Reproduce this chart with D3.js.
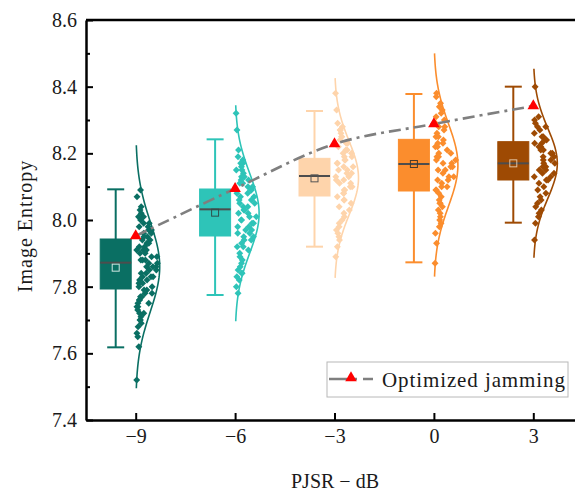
<!DOCTYPE html>
<html lang="en">
<head>
<meta charset="UTF-8">
<title>Image Entropy vs PJSR</title>
<script src="https://d3js.org/d3.v7.min.js"></script>
<style>
  body { margin: 0; background: #fff; }
  text { font-family: "Liberation Serif", "Times New Roman", serif; fill: #1a1a1a; }
</style>
</head>
<body>
<script>
// PJSR groups (dB)
const pjsr = [-9, -6, -3, 0, 3];

// box statistics
const q1 = [7.793, 7.952, 8.072, 8.087, 8.120];
const q3 = [7.943, 8.093, 8.185, 8.242, 8.235];
const medians = [7.872, 8.032, 8.132, 8.168, 8.170];
const means = [7.857, 8.022, 8.125, 8.168, 8.170];
const whiskLo = [7.618, 7.775, 7.920, 7.873, 7.992];
const whiskHi = [8.092, 8.242, 8.327, 8.378, 8.400];

// normal curve drawn next to each cloud
const curveMean = [7.860, 8.020, 8.126, 8.165, 8.170];
const curveSd = [0.135, 0.120, 0.111, 0.124, 0.105];

// optimized jamming result
const optimized = [7.952, 8.094, 8.228, 8.288, 8.342];

// individual samples per group
const ptsM9 = [8.09, 8.07, 8.04, 8.03, 8.02, 8.01, 8.01, 8.00, 7.99, 7.99, 7.98, 7.98, 7.97, 7.97, 7.96,
  7.96, 7.95, 7.95, 7.94, 7.94, 7.93, 7.93, 7.92, 7.92, 7.91, 7.91, 7.91, 7.90, 7.90, 7.89, 7.89, 7.88,
  7.88, 7.88, 7.87, 7.87, 7.86, 7.86, 7.86, 7.85, 7.85, 7.84, 7.84, 7.83, 7.83, 7.83, 7.82, 7.82, 7.81,
  7.81, 7.80, 7.80, 7.79, 7.79, 7.78, 7.78, 7.77, 7.77, 7.76, 7.76, 7.75, 7.75, 7.74, 7.74, 7.73, 7.72,
  7.72, 7.71, 7.70, 7.70, 7.69, 7.68, 7.66, 7.65, 7.62, 7.52];
const ptsM6 = [8.32, 8.27, 8.21, 8.19, 8.18, 8.17, 8.17, 8.16, 8.15, 8.15, 8.14, 8.13, 8.13, 8.12, 8.12,
  8.11, 8.11, 8.10, 8.10, 8.09, 8.09, 8.08, 8.08, 8.07, 8.07, 8.06, 8.06, 8.05, 8.05, 8.04, 8.04, 8.03,
  8.03, 8.02, 8.02, 8.01, 8.01, 8.00, 8.00, 7.99, 7.99, 7.98, 7.98, 7.97, 7.97, 7.96, 7.96, 7.95, 7.95,
  7.94, 7.94, 7.93, 7.92, 7.92, 7.91, 7.90, 7.89, 7.88, 7.87, 7.86, 7.85, 7.84, 7.84, 7.83, 7.82, 7.80,
  7.78];
const ptsM3 = [8.38, 8.33, 8.29, 8.28, 8.27, 8.27, 8.26, 8.25, 8.25, 8.24, 8.23, 8.23, 8.22, 8.21, 8.21,
  8.20, 8.20, 8.19, 8.19, 8.18, 8.18, 8.17, 8.17, 8.16, 8.16, 8.15, 8.15, 8.14, 8.14, 8.13, 8.13, 8.12,
  8.12, 8.11, 8.11, 8.10, 8.10, 8.09, 8.09, 8.08, 8.08, 8.07, 8.06, 8.06, 8.05, 8.04, 8.03, 8.02, 8.01,
  8.00, 7.99, 7.98, 7.97, 7.96, 7.95, 7.94, 7.92, 7.89];
const pts0 = [8.38, 8.37, 8.35, 8.34, 8.33, 8.32, 8.31, 8.30, 8.29, 8.28, 8.28, 8.27, 8.26, 8.25, 8.25,
  8.24, 8.23, 8.23, 8.22, 8.22, 8.21, 8.20, 8.20, 8.19, 8.19, 8.18, 8.18, 8.17, 8.17, 8.16, 8.16, 8.15,
  8.15, 8.14, 8.13, 8.13, 8.12, 8.12, 8.11, 8.10, 8.10, 8.09, 8.09, 8.08, 8.07, 8.06, 8.05, 8.05, 8.04,
  8.03, 8.02, 8.01, 8.00, 7.99, 7.98, 7.96, 7.93, 7.87];
const ptsP3 = [8.40, 8.31, 8.30, 8.29, 8.28, 8.28, 8.27, 8.26, 8.25, 8.25, 8.24, 8.24, 8.23, 8.23, 8.22,
  8.22, 8.21, 8.21, 8.20, 8.20, 8.19, 8.19, 8.18, 8.18, 8.17, 8.17, 8.16, 8.16, 8.15, 8.15, 8.14, 8.14,
  8.13, 8.13, 8.12, 8.12, 8.11, 8.10, 8.09, 8.08, 8.07, 8.06, 8.05, 8.04, 8.03, 8.02, 8.01, 7.99, 7.94];
const samples = [ptsM9, ptsM6, ptsM3, pts0, ptsP3];

const yTicks = [7.4, 7.6, 7.8, 8.0, 8.2, 8.4, 8.6];
const yMinor = [7.5, 7.7, 7.9, 8.1, 8.3, 8.5];

const colors = ["#0a6f63", "#2ec4b8", "#fed4ab", "#fb8d2d", "#9e4a03"];
const meanStroke = ["#cfe6e1", "#2f4f4c", "#555555", "#4a3a2a", "#e2c3a3"];
const serif = "'Liberation Serif', 'Times New Roman', serif";

const W = 575, H = 493;
const margin = { top: 20, left: 86 };
const plotH = 400;

const svg = d3.select("body").append("svg")
  .attr("width", W).attr("height", H)
  .attr("font-family", serif);

const x = d3.scaleLinear().domain([-10.5, 4.5]).range([margin.left, 583]);
const y = d3.scaleLinear().domain([7.4, 8.6]).range([margin.top + plotH, margin.top]);

const boxShift = 20, boxW = 31, capW = 17, curveMax = 24;

// density curve width at value v for group i
function curveWidth(i, v) {
  const z = (v - curveMean[i]) / curveSd[i];
  return curveMax * Math.exp(-z * z / 2);
}

// fixed scatter spread (hash of the index) so points fill the space under the curve
function spread(k, i) {
  const s = Math.sin((k + 1) * 12.9898 + i * 78.233) * 43758.5453;
  return s - Math.floor(s);
}

pjsr.forEach((p, i) => {
  const g = svg.append("g");
  const cx = x(p) - boxShift;
  const col = colors[i];

  // whiskers
  g.append("line").attr("x1", cx).attr("x2", cx)
    .attr("y1", y(whiskHi[i])).attr("y2", y(whiskLo[i]))
    .attr("stroke", col).attr("stroke-width", 2);
  [whiskHi[i], whiskLo[i]].forEach(v => {
    g.append("line").attr("x1", cx - capW / 2).attr("x2", cx + capW / 2)
      .attr("y1", y(v)).attr("y2", y(v))
      .attr("stroke", col).attr("stroke-width", 2);
  });

  // box
  g.append("rect")
    .attr("x", cx - boxW / 2).attr("width", boxW)
    .attr("y", y(q3[i])).attr("height", y(q1[i]) - y(q3[i]))
    .attr("fill", col).attr("stroke", col);

  g.append("line").attr("x1", cx - boxW / 2).attr("x2", cx + boxW / 2)
    .attr("y1", y(medians[i])).attr("y2", y(medians[i]))
    .attr("stroke", "#4d4d4d").attr("stroke-width", 2);

  g.append("rect")
    .attr("x", cx - 3.5).attr("y", y(means[i]) - 3.5)
    .attr("width", 7).attr("height", 7)
    .attr("fill", "none").attr("stroke", meanStroke[i]).attr("stroke-width", 1);

  // normal curve
  const zs = d3.range(-2.7, 2.7001, 0.05);
  const curvePts = zs.map(z => curveMean[i] + z * curveSd[i]);
  g.append("path")
    .datum(curvePts)
    .attr("fill", "none").attr("stroke", col).attr("stroke-width", 1.6)
    .attr("d", d3.line()
      .x(v => x(p) + curveWidth(i, v))
      .y(v => y(v)));

  // sample points between the axis line and the curve
  const diamond = d3.symbol(d3.symbolSquare, 24);
  g.selectAll("path.pt")
    .data(samples[i])
    .join("path")
    .attr("class", "pt")
    .attr("d", diamond)
    .attr("fill", col)
    .attr("transform", (v, k) => {
      const px = x(p) + 1 + spread(k, i) * Math.max(curveWidth(i, v) * 0.92 - 1, 0);
      return `translate(${px},${y(v)}) rotate(45)`;
    });
});

// optimized jamming line + markers
const optData = pjsr.map((p, i) => ({ p, v: optimized[i] }));
svg.append("path")
  .datum(optData)
  .attr("fill", "none")
  .attr("stroke", "#7f7f7f")
  .attr("stroke-width", 2.6)
  .attr("stroke-dasharray", "12,5,3,5")
  .attr("d", d3.line().x(d => x(d.p)).y(d => y(d.v)).curve(d3.curveCatmullRom.alpha(0.5)));

const tri = d3.symbol(d3.symbolTriangle, 58);
svg.selectAll("path.opt")
  .data(optData)
  .join("path")
  .attr("class", "opt")
  .attr("d", tri)
  .attr("fill", "#ff0000")
  .attr("transform", d => `translate(${x(d.p)},${y(d.v)})`);

// axes
const yAxis = svg.append("g")
  .attr("transform", `translate(${margin.left},0)`)
  .call(d3.axisLeft(y).tickValues(yTicks).tickFormat(d3.format(".1f"))
    .tickSizeInner(-7).tickSizeOuter(0).tickPadding(9));
svg.append("g")
  .attr("transform", `translate(${margin.left},0)`)
  .call(d3.axisLeft(y).tickValues(yMinor).tickFormat("").tickSizeInner(-4).tickSizeOuter(0))
  .call(a => a.select(".domain").remove())
  .selectAll("line").attr("stroke-width", 2);

const xAxis = svg.append("g")
  .attr("transform", `translate(0,${margin.top + plotH})`)
  .call(d3.axisBottom(x).tickValues(pjsr).tickFormat(d3.format("d"))
    .tickSizeInner(-7).tickSizeOuter(0).tickPadding(9));

[yAxis, xAxis].forEach(a => {
  a.attr("font-family", serif).attr("font-size", 20);
  a.select(".domain").attr("stroke-width", 2.5);
  a.selectAll(".tick line").attr("stroke-width", 2);
  a.selectAll(".tick text").attr("fill", "#1a1a1a");
});

// frame top and right
svg.append("path")
  .attr("d", `M${margin.left},${margin.top}H583V${margin.top + plotH}`)
  .attr("fill", "none").attr("stroke", "#000").attr("stroke-width", 2.5);

// titles
svg.append("text")
  .attr("transform", `translate(32,226) rotate(-90)`)
  .attr("text-anchor", "middle")
  .style("font-size", "20px").style("letter-spacing", "1px")
  .text("Image Entropy");

svg.append("text")
  .attr("x", 335).attr("y", 488)
  .attr("text-anchor", "middle")
  .style("font-size", "20px")
  .text("PJSR \u2212 dB");

// legend
const lg = svg.append("g");
lg.append("rect")
  .attr("x", 327).attr("y", 362).attr("width", 241).attr("height", 35)
  .attr("fill", "#fff").attr("stroke", "#b8b8b8").attr("stroke-width", 1);
lg.append("line")
  .attr("x1", 329).attr("x2", 373).attr("y1", 379).attr("y2", 379)
  .attr("stroke", "#7f7f7f").attr("stroke-width", 2.6)
  .attr("stroke-dasharray", "18,6,4,6");
lg.append("path")
  .attr("d", tri).attr("fill", "#ff0000")
  .attr("transform", "translate(351,378)");
lg.append("text")
  .attr("x", 382).attr("y", 387)
  .style("font-size", "21px").style("letter-spacing", "0.9px")
  .text("Optimized jamming");
</script>
</body>
</html>
